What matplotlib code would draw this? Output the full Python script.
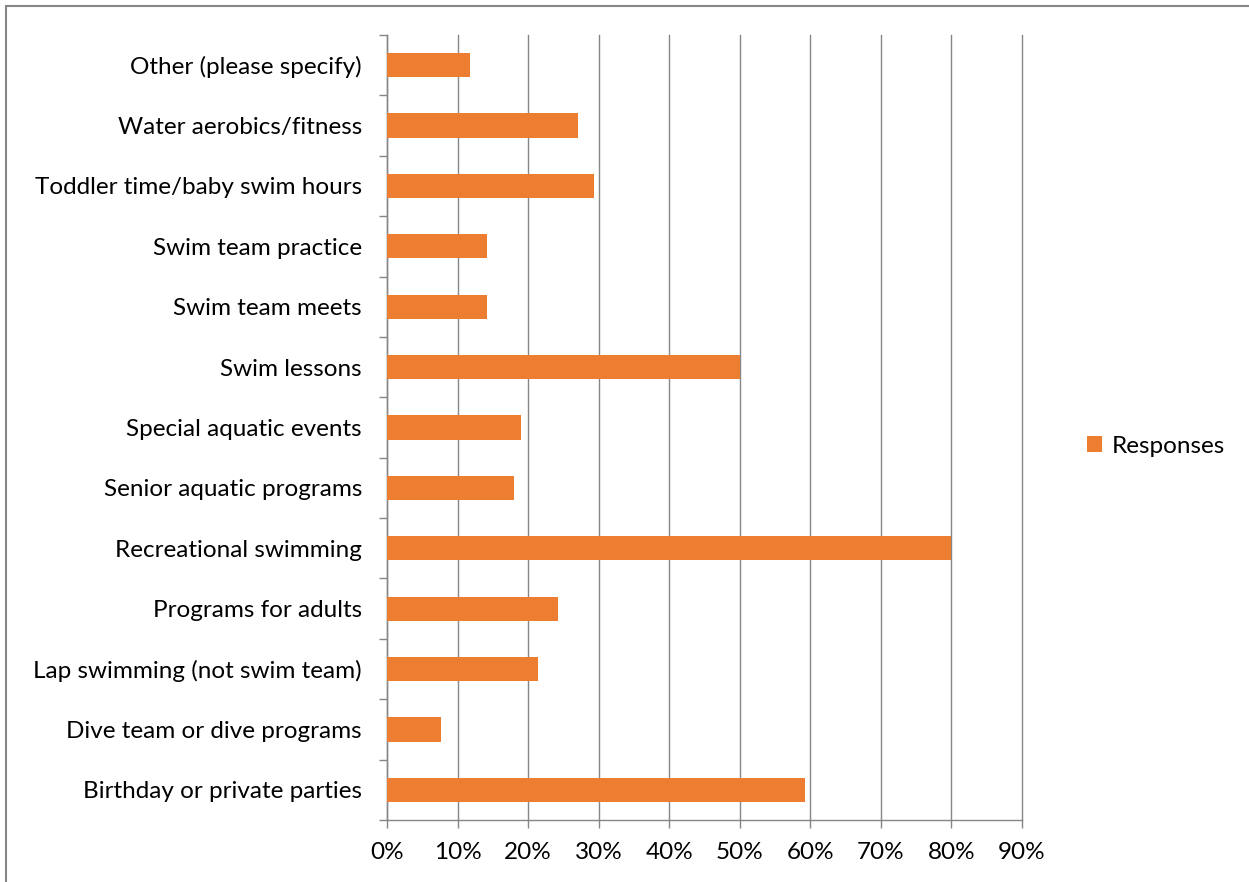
import numpy as np
import matplotlib.pyplot as plt
from matplotlib.patches import Rectangle
from matplotlib.ticker import FixedLocator, PercentFormatter

plt.rcParams['font.family'] = ['Lato', 'DejaVu Sans']

categories = [
    "Birthday or private parties",
    "Dive team or dive programs",
    "Lap swimming (not swim team)",
    "Programs for adults",
    "Recreational swimming",
    "Senior aquatic programs",
    "Special aquatic events",
    "Swim lessons",
    "Swim team meets",
    "Swim team practice",
    "Toddler time/baby swim hours",
    "Water aerobics/fitness",
    "Other (please specify)",
]
responses = [59.2, 7.6, 21.4, 24.2, 79.9, 18.0, 19.0, 50.1, 14.2, 14.2, 29.3, 27.0, 11.8]
series_name = "Responses"

GRAY = '#868686'
ORANGE = '#ED7D31'


def main():
    fig = plt.figure(figsize=(12.49, 8.82), dpi=100)
    ax = fig.add_axes([387 / 1249, 1 - 820 / 882, 635 / 1249, 785 / 882])

    y = np.arange(len(categories))
    ax.barh(y, responses, height=0.4, color=ORANGE, label=series_name, zorder=3)

    ax.set_xlim(0, 90)
    ax.set_ylim(-0.5, len(categories) - 0.5)
    ax.set_xticks(np.arange(0, 91, 10))
    ax.xaxis.set_major_formatter(PercentFormatter(decimals=0))
    ax.set_yticks(y)
    ax.set_yticklabels(categories)
    ax.yaxis.set_minor_locator(FixedLocator(np.arange(-0.5, len(categories), 1)))

    ax.grid(axis='x', color=GRAY, linewidth=1.0, zorder=0)
    for gl in ax.get_xgridlines():
        gl.set_clip_on(False)
    for s in ['top', 'right']:
        ax.spines[s].set_visible(False)
    for s in ['left', 'bottom']:
        ax.spines[s].set_color(GRAY)
        ax.spines[s].set_linewidth(1.0)

    ax.tick_params(axis='y', which='major', length=0, pad=18, labelsize=17.5)
    ax.tick_params(axis='y', which='minor', length=6, color=GRAY, width=1.0)
    ax.tick_params(axis='x', which='major', length=6, color=GRAY, width=1.0,
                   pad=10, labelsize=17.5)

    fig.legend(loc='center left', bbox_to_anchor=(1087 / 1249, 1 - 446 / 882),
               frameon=False, fontsize=17.5, handlelength=0.6, handleheight=0.6,
               handletextpad=0.4, borderaxespad=0, borderpad=0)

    # outer chart frame (cropped at right and bottom)
    fig.add_artist(Rectangle((6 / 1249, -0.1), 1.2, 1 - 6 / 882 + 0.1,
                             transform=fig.transFigure, fill=False,
                             edgecolor=GRAY, linewidth=1.5))

    fig.savefig("out.png", dpi=100)


if __name__ == "__main__":
    main()
